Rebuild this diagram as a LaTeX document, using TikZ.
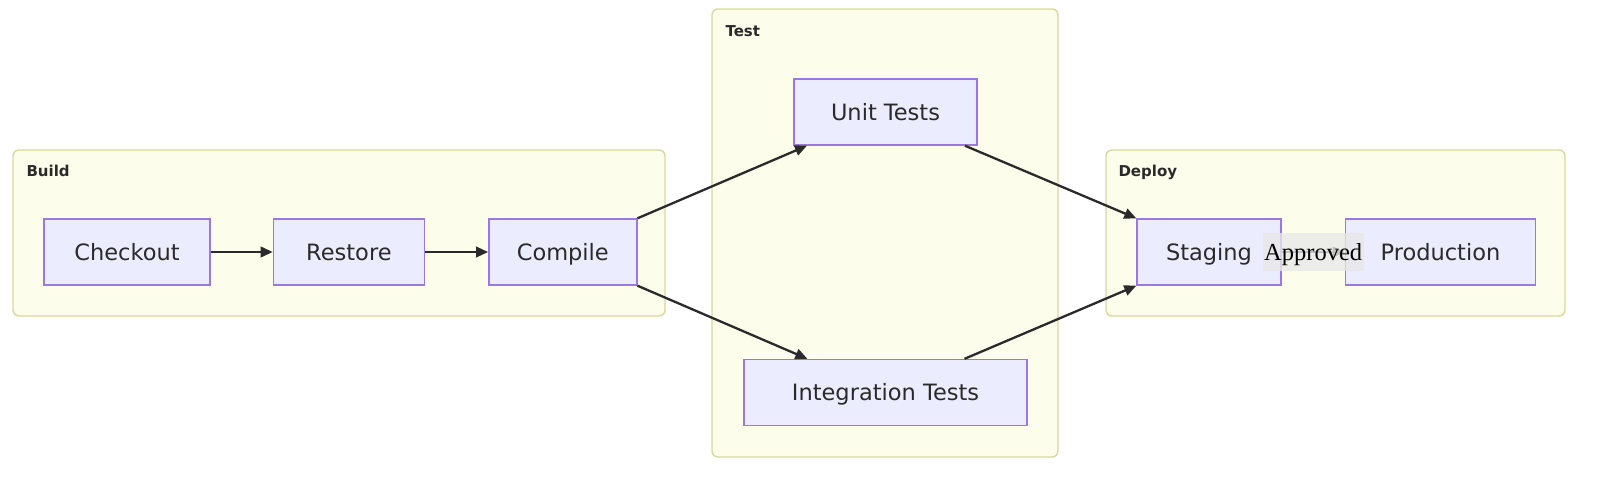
\documentclass[tikz,border=0pt]{standalone}
\usepackage{fontspec}
\setmainfont{DejaVu Sans}
\newfontfamily\edgefont{Liberation Serif}
\usepackage{tikz}
\definecolor{boxfill}{HTML}{ECECFF}
\definecolor{boxline}{HTML}{9A78E0}
\definecolor{groupfill}{HTML}{FDFDEB}
\definecolor{groupline}{HTML}{D8D8A0}
\definecolor{linkgray}{HTML}{2A2A2A}
\definecolor{labelgray}{HTML}{E8E8E8}
\usetikzlibrary{positioning, arrows.meta, shapes}
\tikzstyle{arrow} = [line width=2.3pt, draw=linkgray, -{Triangle[length=12pt,width=10.5pt]}]

\begin{document}
\begin{tikzpicture}[x=1pt, y=-1pt]
                \tikzstyle{every node}=[font=\fontsize{22.5}{27}\selectfont, text=linkgray]
                \tikzstyle{stage} = [rectangle, draw=boxline, fill=boxfill, line width=1.4pt, minimum height=66pt, text height=16.4pt, text depth=0pt, inner sep=0pt]
                \tikzstyle{group} = [rectangle, rounded corners=6pt, draw=groupline, fill=groupfill, line width=1.4pt, inner sep=0pt]
                \tikzstyle{grouptitle} = [font=\fontsize{15}{18}\selectfont\bfseries, text=linkgray, anchor=base west, inner sep=0pt]
                \tikzstyle{edgelabel} = [font=\edgefont\fontsize{24.5}{28}\selectfont, fill=labelgray, fill opacity=0.8, text opacity=1, text=black, minimum height=38pt, inner xsep=1.5pt, text height=16pt, text depth=0pt]

                \useasboundingbox (0,0) rectangle (1600,488);

                % % subgraphs
                \node[group, minimum width=652pt, minimum height=166pt](build) at (339,233) {};
                \node[group, minimum width=346pt, minimum height=448pt](test) at (885,233) {};
                \node[group, minimum width=459pt, minimum height=166pt](deploy) at (1335.5,233) {};

                \node[grouptitle](buildtitle) at ([xshift=14pt,yshift=-27pt]build.north west) {Build};
                \node[grouptitle](testtitle) at ([xshift=14pt,yshift=-28pt]test.north west) {Test};
                \node[grouptitle](deploytitle) at ([xshift=13pt,yshift=-27pt]deploy.north west) {Deploy};

                % build steps
                \node[stage, minimum width=166pt](checkout) at (127,252) {Checkout};
                \node[stage, minimum width=151pt, right=62pt of checkout](restore) {Restore};
                \node[stage, minimum width=148pt, right=63pt of restore](compile) {Compile};

                % tests
                \node[stage, minimum width=183pt](unit) at (885.5,112) {Unit Tests};
                \node[stage, minimum width=283pt](integration) at (885.5,392.5) {Integration Tests};

                % deploy steps
                \node[stage, minimum width=144pt](staging) at (1209,252) {Staging};
                \node[stage, minimum width=190pt, right=63pt of staging](production) {Production};

                \draw[arrow] (checkout) -- (restore);
                \draw[arrow] (restore) -- (compile);
                \draw[arrow] (compile.north east) -- (unit);
                \draw[arrow] (compile.south east) -- (integration);
                \draw[arrow] (unit) -- (staging.north west);
                \draw[arrow] (integration) -- (staging.south west);
                \draw[arrow] (staging) -- (production) node[edgelabel, midway](approved) {Approved};

        \end{tikzpicture}
\end{document}
